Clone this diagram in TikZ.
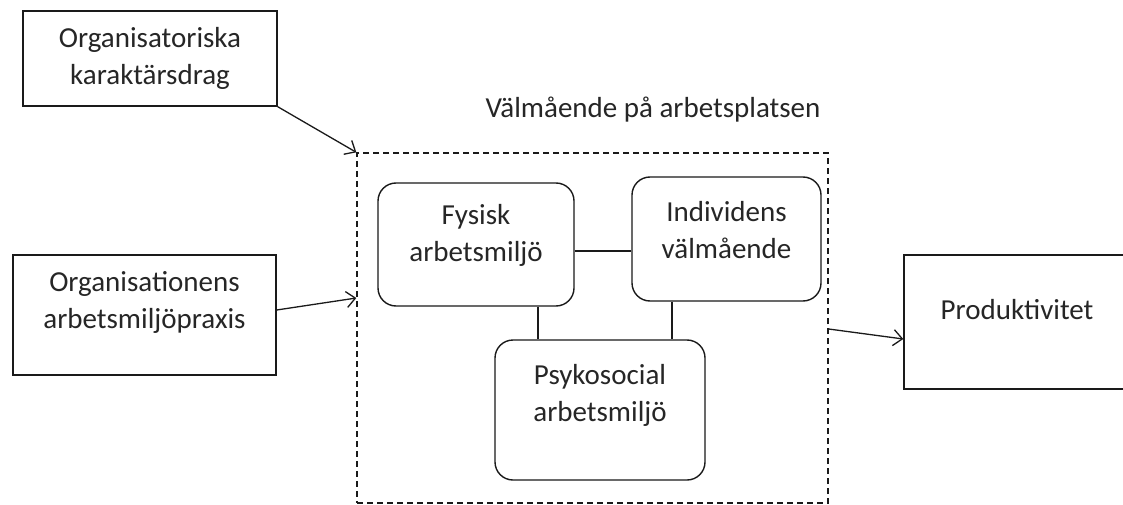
\documentclass[tikz,border=0pt]{standalone}
\usepackage{fontspec}
\setmainfont{Carlito}
\usetikzlibrary{arrows.meta,calc}
\definecolor{txt}{HTML}{262626}
\definecolor{ln}{HTML}{1A1A1A}
\tikzset{
  every node/.style={font=\fontsize{29}{37}\selectfont, text=txt, align=center},
  sqbox/.style={draw=ln, line width=1.4pt, inner sep=0pt},
  rbox/.style={draw=ln, line width=1.4pt, rounded corners=18pt, inner sep=0pt},
  dashbox/.style={draw=ln, line width=1.3pt, dash pattern=on 6pt off 4pt, inner sep=0pt},
  arr/.style={draw=ln, line width=1.3pt, -{Straight Barb[length=9pt,width=16pt,line width=1.3pt]}},
  link/.style={draw=ln, line width=1.3pt},
  lbl/.style={inner sep=0pt}
}
\begin{document}
\begin{tikzpicture}[x=1pt,y=-1pt]
\clip (0,0) rectangle (1123,505);
\fill[white] (0,0) rectangle (1123,505);
% outer boxes
\node[sqbox, minimum width=254pt, minimum height=95pt] (b1) at (150,58.5) {Organisatoriska\\karaktärsdrag};
\node[sqbox, minimum width=263pt, minimum height=120pt] (b2) at (144.5,315) {};
\node[lbl] (t2) at (144.5,302) {Organisationens\\arbetsmiljöpraxis};
\node[sqbox, minimum width=240pt, minimum height=134pt] (prod) at (1024,322) {};
\node[lbl] (tp) at (1017,310) {Produktivitet};
% dashed group
\node[dashbox, minimum width=471pt, minimum height=350pt] (w) at (592.5,328) {};
\node[lbl] (title) at (653,110) {Välmående på arbetsplatsen};
% inner rounded boxes
\node[rbox, minimum width=196pt, minimum height=123pt] (fys) at (476,244.5) {};
\node[lbl] (tf) at (476,235.5) {Fysisk\\arbetsmiljö};
\node[rbox, minimum width=189pt, minimum height=124pt] (ind) at (726.5,239) {};
\node[lbl] (ti) at (726.5,230) {Individens\\välmående};
\node[rbox, minimum width=210pt, minimum height=140pt] (psy) at (600,410) {};
\node[lbl] (tps) at (600,395.5) {Psykosocial\\arbetsmiljö};
% links
\draw[link] ([yshift=-6.5pt]fys.east) -- ([yshift=-12pt]ind.west);
\draw[link] ([xshift=62pt]fys.south) -- ([xshift=-62pt]psy.north);
\draw[link] ([xshift=-54.5pt]ind.south) -- ([xshift=72pt]psy.north);
% arrows
\draw[arr] (b1.south east) -- (w.north west);
\draw[arr] ([yshift=5pt]b2.east) -- ([yshift=30pt]w.west);
\draw[arr] ([yshift=-1pt]w.east) -- ([yshift=-17pt]prod.west);
\end{tikzpicture}
\end{document}
